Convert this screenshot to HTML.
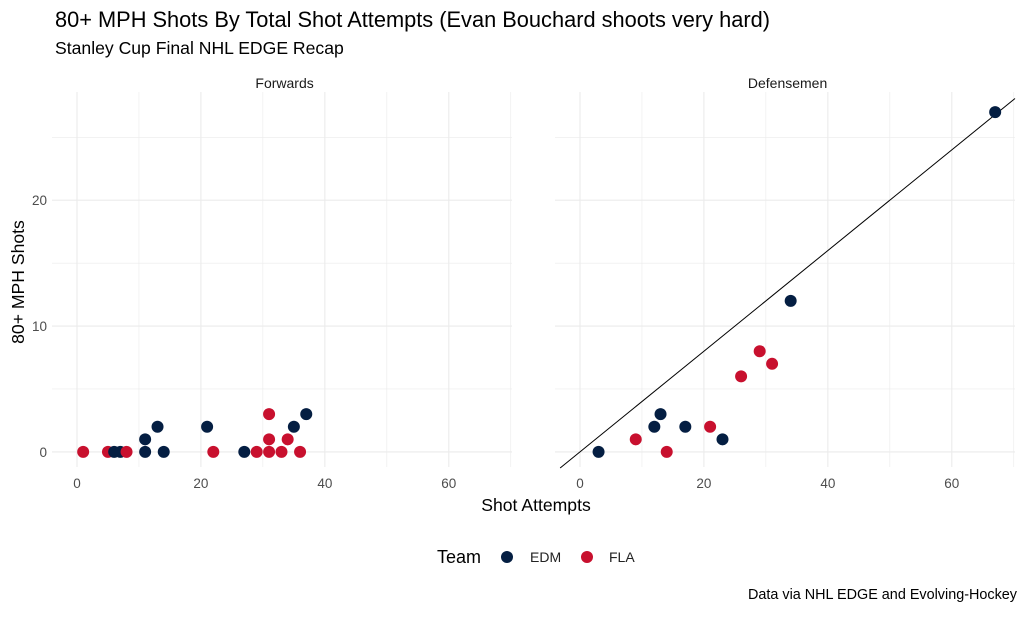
<!DOCTYPE html>
<html><head><meta charset="utf-8"><style>
body{margin:0;background:#fff;font-family:"Liberation Sans",sans-serif;}
svg text{font-family:"Liberation Sans",sans-serif;}
</style></head><body>
<svg width="1027" height="613" viewBox="0 0 1027 613" xmlns="http://www.w3.org/2000/svg">
<text x="55" y="27" font-size="21.8" fill="#000">80+ MPH Shots By Total Shot Attempts (Evan Bouchard shoots very hard)</text>
<text x="55" y="54" font-size="17.6" fill="#000">Stanley Cup Final NHL EDGE Recap</text>
<g id="panels"></g>
<text x="536" y="511" font-size="17.6" text-anchor="middle" fill="#000">Shot Attempts</text>
<text x="24" y="282" font-size="17.6" text-anchor="middle" fill="#000" transform="rotate(-90 24 282)">80+ MPH Shots</text>
<g>
<text x="437" y="563" font-size="18" fill="#000">Team</text>
<circle cx="507" cy="557" r="6" fill="#041E42"/>
<text x="530" y="562" font-size="14" fill="#222">EDM</text>
<circle cx="587" cy="557" r="6" fill="#C8102E"/>
<text x="609" y="562" font-size="14" fill="#222">FLA</text>
</g>
<text x="1017" y="599" font-size="14.4" text-anchor="end" fill="#000">Data via NHL EDGE and Evolving-Hockey</text>
</svg>
<script>
const panelNames=["Forwards","Defensemen"];
const xTicks=[0,20,40,60];
const yTicks=[0,10,20];
const fwdX=[1,5,6,7,8,11,11,13,14,21,22,27,29,31,31,31,33,34,35,36,37];
const fwdY=[0,0,0,0,0,1,0,2,0,2,0,0,0,0,1,3,0,1,2,0,3];
const fwdTeam=["FLA","FLA","EDM","EDM","FLA","EDM","EDM","EDM","EDM","EDM","FLA","EDM","FLA","FLA","FLA","FLA","FLA","FLA","EDM","FLA","EDM"];
const defX=[3,9,12,13,14,17,21,23,26,29,31,34,67];
const defY=[0,1,2,3,0,2,2,1,6,8,7,12,27];
const defTeam=["EDM","FLA","EDM","EDM","FLA","EDM","FLA","EDM","FLA","FLA","FLA","EDM","EDM"];
const refSlope=0.4;
const NS="http://www.w3.org/2000/svg";
const g=document.getElementById("panels");
const colors={EDM:"#041E42",FLA:"#C8102E"};
const panelLeft=[52,555],panelW=460,xMin=-4.03,xMax=70.2,yMin=-1.2,yMax=28.6,pTop=92,pBot=467;
function mk(t,a){const e=document.createElementNS(NS,t);for(const k in a)e.setAttribute(k,a[k]);g.appendChild(e);return e;}
[[fwdX,fwdY,fwdTeam],[defX,defY,defTeam]].forEach((d,p)=>{
 const L=panelLeft[p];
 const sx=v=>L+(v-xMin)/(xMax-xMin)*panelW;
 const sy=v=>pBot-(v-yMin)/(yMax-yMin)*(pBot-pTop);
 for(let v=0;v<=70;v+=10){const l=mk("line",{x1:sx(v),x2:sx(v),y1:pTop,y2:pBot,stroke:"#ebebeb","stroke-width":v%20?0.6:1.1});
  
  }
 for(let v=0;v<=25;v+=5){const l=mk("line",{x1:L,x2:L+panelW,y1:sy(v),y2:sy(v),stroke:"#ebebeb","stroke-width":v%10?0.6:1.1});
  
  }
 const st=mk("text",{x:sx(33.5),y:88,"font-size":14,"text-anchor":"middle",fill:"#1a1a1a"});st.textContent=panelNames[p];
 
 
 xTicks.forEach(v=>{const t=mk("text",{x:sx(v),y:488,"font-size":13.5,"text-anchor":"middle",fill:"#4d4d4d"});t.textContent=v;
  
  });
 if(p===0)yTicks.forEach(v=>{const t=mk("text",{x:47,y:sy(v)+5,"font-size":13.5,"text-anchor":"end",fill:"#4d4d4d"});t.textContent=v;
  
  });
 if(p===1){const x0=(pBot-pBot)+ -3.2,x1=xMax;const l=mk("line",{x1:sx(x0),y1:sy(refSlope*x0),x2:sx(x1),y2:sy(refSlope*x1),stroke:"#000","stroke-width":1});
  
  }
 d[0].forEach((x,i)=>{const c=mk("circle",{cx:sx(x),cy:sy(d[1][i]),r:6,fill:colors[d[2][i]]});
  
  });
});
</script>
</body></html>
